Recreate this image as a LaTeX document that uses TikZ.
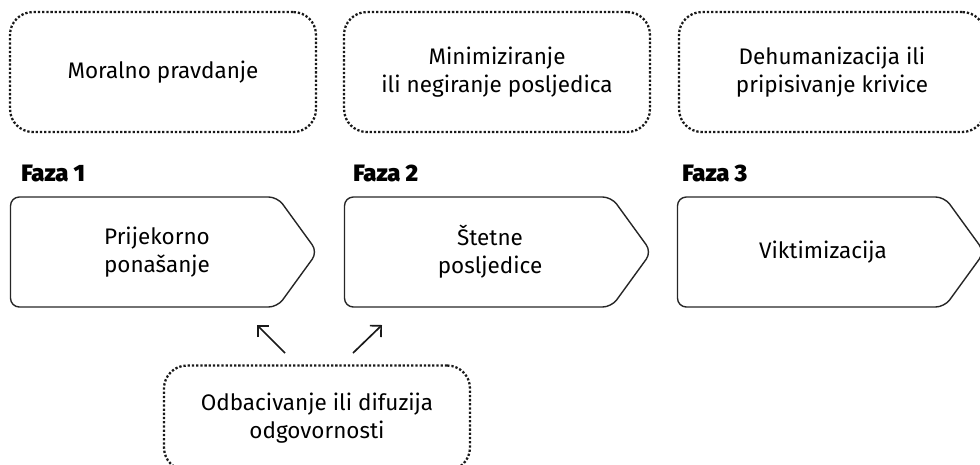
\documentclass[tikz,border=0pt]{standalone}
\usepackage{fontspec}
\setmainfont{Fira Sans}
\newfontfamily\heavyfont{Fira Sans}[UprightFont={* Black}]
\usetikzlibrary{shapes.symbols,arrows.meta}

\begin{document}
\begin{tikzpicture}[x=0.02cm,y=-0.02cm,
  idea/.style={draw=black!90,line width=1.3pt,dash pattern=on 1.3pt off 1.1pt,rounded corners=13pt,minimum width=6.12cm,minimum height=2.4cm,align=center,font=\fontsize{12.8}{16}\selectfont},
  phase/.style={shape=signal,signal to=east,signal pointer angle=108,draw=black!85,line width=0.8pt,rounded corners=5pt,minimum width=6.14cm,minimum height=2.2cm},
  phasetext/.style={align=center,font=\fontsize{12.8}{16}\selectfont},
  faza/.style={anchor=west,inner sep=0pt,font=\heavyfont\fontsize{13.5}{15}\selectfont},
  pointer/.style={-{Straight Barb[length=4.5pt,width=9pt]},line width=0.95pt,draw=black!90}]
\useasboundingbox (0,0) rectangle (980,464);
\clip (0,0) rectangle (980,464);
% gornji red
\node[idea] (mp) at (163,72) {Moralno pravdanje};
\node[idea] (mn) at (497,72) {Minimiziranje\\ili negiranje posljedica};
\node[idea] (dh) at (832,72) {Dehumanizacija ili\\pripisivanje krivice};
% faze
\node[faza] (f1) at (21,173) {Faza 1};
\node[faza] (f2) at (353,173) {Faza 2};
\node[faza] (f3) at (682,173) {Faza 3};
\node[phase] (pp) at (144,252) {};
\node[phase] (sp) at (478,252) {};
\node[phase] (vk) at (811,252) {};
\node[phasetext] (ppt) at (157,252) {Prijekorno\\ponašanje};
\node[phasetext] (spt) at (490,252) {Štetne\\posljedice};
\node[phasetext] (vkt) at (823,252) {Viktimizacija};
% donji okvir
\node[idea,minimum height=2.1cm] (od) at (317,418) {Odbacivanje ili difuzija\\odgovornosti};
\coordinate (a1s) at (285,353);
\coordinate (a1e) at (257,325);
\coordinate (a2s) at (353,353);
\coordinate (a2e) at (382,325);
\draw[pointer] (a1s) -- (a1e);
\draw[pointer] (a2s) -- (a2e);
\end{tikzpicture}
\end{document}
